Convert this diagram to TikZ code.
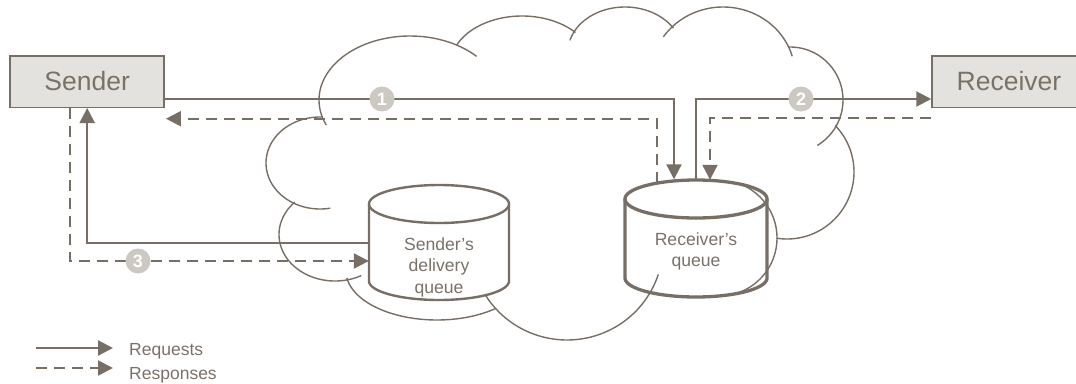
\documentclass[tikz,border=0pt]{standalone}
\usepackage{fontspec}
\setmainfont{Liberation Sans}
\usetikzlibrary{arrows.meta,calc}
\definecolor{ink}{HTML}{776E65}
\definecolor{txt}{HTML}{7A7269}
\definecolor{boxfill}{HTML}{E4E2DF}
\definecolor{badgefill}{HTML}{CCC8C2}
\tikzset{
  endpoint/.style={draw=ink, fill=boxfill, line width=1.5pt, minimum width=154pt,
    minimum height=51.5pt, inner sep=0pt, text=txt, font=\fontsize{26.5}{30}\selectfont},
  qlabel/.style={text=txt, align=center, inner sep=0pt, font=\fontsize{17.6}{21.7}\selectfont},
  req/.style={draw=ink, line width=2.2pt, -{Triangle[length=15pt,width=15pt]}},
  resp/.style={req, dash pattern=on 11pt off 7pt},
  cloudline/.style={draw=ink, line width=1.4pt},
  badge/.style={circle, fill=badgefill, minimum size=25pt, inner sep=0pt, text=white,
    font=\fontsize{18}{18}\selectfont\bfseries},
  legendtext/.style={text=txt, inner sep=0pt, font=\fontsize{17.5}{20}\selectfont},
}
\begin{document}
\begin{tikzpicture}[x=1pt,y=-1pt]
\useasboundingbox (0,0) rectangle (1076,383);

% receiver's queue: cylinder, the cloud outline runs across it
\filldraw[draw=ink, fill=white, line width=3.3pt, line join=round]
  (625,199) -- (625,278)
  -- plot[domain=180:0,samples=60] ({696+71*cos(\x)},{278+19*sin(\x)})
  -- (767,199)
  -- plot[domain=0:-180,samples=60] ({696+71*cos(\x)},{199+19*sin(\x)}) -- cycle;
\draw[draw=ink, line width=3.3pt]
  plot[domain=0:180,samples=60] ({696+71*cos(\x)},{199+19*sin(\x)});
\node[minimum width=142pt, minimum height=116pt, inner sep=0pt] (rq) at (696,239) {};
\node[qlabel] (rqtext) at (696,251.4) {Receiver’s\\queue};

% cloud: one elliptic arc per lobe (centre x/y, radii, start/end angle)
\foreach \cx/\cy/\rx/\ry/\a/\b in {
    410/100/91/64/157/317,
    522/66/72/50/205/318,
    625/52/57/45/195/328,
    723/75/72/68/214/344,
    790/100/53/53/-92/59,
    787/172/67/67/-44/99,
    719/238/58/58/-66/76,
    567/245/96/95/18/149,
    437/271/91/49/50/172,
    335/234.5/56/46.5/62/224,
    320/163/54/46/79/273}
  \draw[cloudline] plot[domain=\a:\b,samples=70] ({\cx+\rx*cos(\x)},{\cy+\ry*sin(\x)});

% sender's delivery queue: cylinder in front of the cloud
\filldraw[draw=ink, fill=white, line width=2.4pt, line join=round]
  (369,204) -- (369,281)
  -- plot[domain=180:0,samples=60] ({439+70*cos(\x)},{281+19*sin(\x)})
  -- (509,204)
  -- plot[domain=0:-180,samples=60] ({439+70*cos(\x)},{204+19*sin(\x)}) -- cycle;
\draw[draw=ink, line width=2.4pt]
  plot[domain=0:180,samples=60] ({439+70*cos(\x)},{204+19*sin(\x)});
\node[minimum width=140pt, minimum height=115pt, inner sep=0pt] (sq) at (439,242.5) {};
\node[qlabel] (sqtext) at (439,267.2) {Sender’s\\delivery\\queue};

% end points
\node[endpoint] (sender) at (87.2,81.5) {Sender};
\node[endpoint] (receiver) at (1009,81.5) {Receiver};

% requests
\draw[req] ($(sender.east)+(0,17.5)$) -| ($(rq.north)+(-22,-1.5)$);
\draw[req] (rq.north) |- ($(receiver.west)+(0,17.5)$);
\draw[req] ($(sq.west)+(0,0.5)$) -| (sender.south);

% responses
\coordinate (backtip) at ($(sender.south east)+(1,10.7)$);
\draw[resp] ($(receiver.west)+(0,36.5)$) -| ($(rq.north)+(14,-1)$);
\draw[resp] ($(rq.north)+(-39,2)$) |- (backtip);
\draw[resp] ($(sender.south)+(-17,0)$) |- ($(sq.west)+(0,18.5)$);

% step numbers
\node[badge] (n1) at (382,99) {1};
\node[badge] (n2) at (801,99) {2};
\node[badge] (n3) at (138,261) {3};

% legend
\coordinate (lga) at (36,348);
\coordinate (lgb) at (113,348);
\coordinate (lgc) at (36,368);
\coordinate (lgd) at (113,368);
\draw[req] (lga) -- (lgb);
\draw[resp] (lgc) -- (lgd);
\node[legendtext, anchor=base west] (lt1) at (129,355.7) {Requests};
\node[legendtext, anchor=base west] (lt2) at (129,379) {Responses};
\end{tikzpicture}
\end{document}
